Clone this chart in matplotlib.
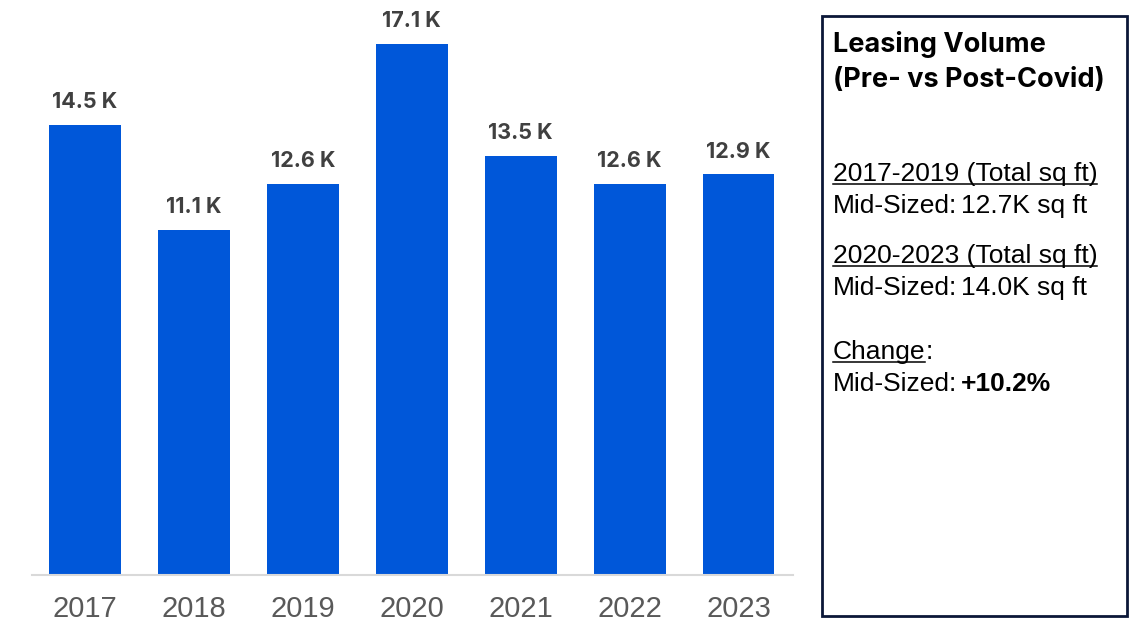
import matplotlib
matplotlib.use("Agg")
import matplotlib.pyplot as plt
from matplotlib.patches import Rectangle
from matplotlib.lines import Line2D

years = ["2017", "2018", "2019", "2020", "2021", "2022", "2023"]
volume_k = [14.5, 11.1, 12.6, 17.1, 13.5, 12.6, 12.9]

pre_heading = "2017-2019 (Total sq ft)"
pre_value = "12.7K sq ft"
post_heading = "2020-2023 (Total sq ft)"
post_value = "14.0K sq ft"
change_value = "+10.2%"

W, H = 1140, 624
fig = plt.figure(figsize=(W / 100, H / 100), dpi=100)
fig.patch.set_facecolor("white")

# bar chart area
ax = fig.add_axes([32 / W, 1 - 575 / H, (793 - 32) / W, 575 / H])
x = list(range(len(years)))
ax.bar(x, volume_k, width=0.66, color="#0057D9", zorder=2)
ax.set_xlim(-0.486, 6.5)
ax.set_ylim(0, 18.52)
for i, v in zip(x, volume_k):
    ax.annotate(f"{v:.1f} K", (i, v), xytext=(0, 16.5), textcoords="offset points",
                ha="center", va="center", fontsize=15.5, fontweight="bold",
                family="Inter", color="#404040")

for s in ["top", "right", "left"]:
    ax.spines[s].set_visible(False)
ax.spines["bottom"].set_color("#D9D9D9")
ax.spines["bottom"].set_linewidth(1.5)
ax.set_yticks([])
ax.set_xticks(x)
ax.set_xticklabels(years, fontsize=21, family="Liberation Sans", color="#595959")
ax.tick_params(axis="x", length=0, pad=14.5)

# summary panel on the right
fig.patches.append(Rectangle((822 / W, 1 - 616 / H), (1127 - 822) / W, (616 - 16) / H,
                             transform=fig.transFigure, fill=False,
                             edgecolor="#0B1738", linewidth=2))

fig.text(833 / W, 1 - 45 / H, "Leasing Volume", fontsize=19.5, fontweight="bold",
         family="Inter", color="black", va="center")
fig.text(833 / W, 1 - 80 / H, "(Pre- vs Post-Covid)", fontsize=19.5, fontweight="bold",
         family="Inter", color="black", va="center")

body = dict(fontsize=19, family="Liberation Sans", color="black", va="baseline")
renderer = fig.canvas.get_renderer()


def underlined(xp, yp, text):
    t = fig.text(xp / W, 1 - yp / H, text, **body)
    bb = t.get_window_extent(renderer)
    uy = H - yp - 2.5
    fig.lines.append(Line2D([bb.x0 / W, (bb.x1 - 1) / W], [uy / H, uy / H],
                            transform=fig.transFigure, color="black", linewidth=1.1))
    return t


def labelled(yp, value, bold=False):
    t = fig.text(833 / W, 1 - yp / H, "Mid-Sized:", **body)
    bb = t.get_window_extent(renderer)
    fig.text((bb.x1 + 4) / W, 1 - yp / H, value,
             fontweight="bold" if bold else "normal", **body)


underlined(833, 181, pre_heading)
labelled(213, pre_value)
underlined(833, 263, post_heading)
labelled(295, post_value)
ch = underlined(833, 359, "Change")
cb = ch.get_window_extent(renderer)
fig.text(cb.x1 / W, 1 - 359 / H, ":", **body)
labelled(391, change_value, bold=True)

fig.savefig("out.png", dpi=100)
